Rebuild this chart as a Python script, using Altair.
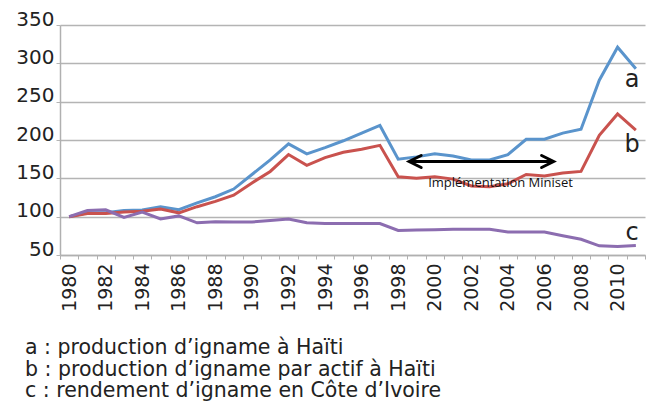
import altair as alt
import pandas as pd

years = list(range(1980, 2012))

series_a = [100, 105, 105, 108, 108.7, 113, 109, 118, 126, 136, 155, 174, 195, 182, 190, 199,
            209, 219, 175, 178, 182, 179, 174, 174, 181, 201, 201, 209, 214, 278, 321, 293]
series_b = [100, 104, 104, 106, 107, 110, 105, 113, 120, 128, 144, 159, 181, 167, 177, 184,
            188, 193, 152, 150, 152, 149, 140, 139, 143, 155, 153, 157, 159, 206, 234, 213]
series_c = [100, 108, 109, 99, 106, 97, 101, 92, 93.5, 93, 93, 95, 97, 92, 91, 91,
            91, 91, 82, 82.5, 83, 83.5, 83.5, 83.5, 80, 80, 80, 75, 70.5, 62, 61, 62.5]

series_names = ["a", "b", "c"]
series_colors = ["#5a94cc", "#c9524e", "#8c6db0"]

y_ticks = [50, 100, 150, 200, 250, 300, 350]

# end-of-line letters
end_labels = ["a", "b", "c"]
end_label_year = [2010.8, 2010.8, 2010.8]
end_label_value = [269, 184, 70]

# arrow annotation
arrow_start = 1998.6
arrow_end = 2006.5
arrow_value = 172
arrow_text = "Implémentation Miniset"
arrow_text_year = 2003.6
arrow_text_value = 139

legend_lines = [
    "a : production d\u2019igname à Haïti",
    "b : production d\u2019igname par actif à Haïti",
    "c : rendement d\u2019igname en Côte d\u2019Ivoire",
]

W, H = 585, 230
FONT = "DejaVu Sans"

rows = []
for name, vals in zip(series_names, [series_a, series_b, series_c]):
    for y, v in zip(years, vals):
        rows.append({"series": name, "year": y, "value": v})
df = pd.DataFrame(rows)

xscale = alt.Scale(domain=[1979.5, 2011.5], nice=False, zero=False)
yscale = alt.Scale(domain=[50, 350], nice=False, zero=False)

tick_vals = [1979.5 + i for i in range(33)]

x_axis = alt.Axis(
    values=tick_vals,
    labelExpr="((datum.value + 0.5) % 2 == 0 && datum.value < 2011) ? '' + (datum.value + 0.5) : ''",
    labelAngle=270, labelAlign="right", labelBaseline="middle",
    labelOffset=W / 32 / 2, labelPadding=4, labelOverlap=False, labelFlush=False,
    labelFont=FONT, labelFontSize=19, labelColor="#222222",
    tickSize=4, tickColor="#b0b0b0", domainColor="#b0b0b0", domainWidth=1.5,
    grid=False, title=None,
)
y_axis = alt.Axis(
    values=y_ticks, grid=True, gridColor="#b4b4b4", gridWidth=1.3,
    tickSize=4, tickColor="#b4b4b4", domainColor="#b0b0b0", domainWidth=1.5,
    labelFont=FONT, labelFontSize=20, labelColor="#222222", labelOverlap=False,
    labelBaseline="alphabetic", labelPadding=2, labelFlush=False, title=None,
)


def X(field):
    return alt.X(field, scale=xscale, axis=x_axis)


def Y(field):
    return alt.Y(field, scale=yscale, axis=y_axis)


lines = alt.Chart(df).mark_line(strokeWidth=3).encode(
    x=X("year:Q"),
    y=Y("value:Q"),
    color=alt.Color("series:N", scale=alt.Scale(domain=series_names, range=series_colors), legend=None),
)

lab_df = pd.DataFrame({"label": end_labels, "year": end_label_year, "value": end_label_value})
letters = alt.Chart(lab_df).mark_text(
    font=FONT, fontSize=24, color="#222222", align="center", baseline="alphabetic"
).encode(x=X("year:Q"), y=Y("value:Q"), text="label:N")

arrow_df = pd.DataFrame({"x": [arrow_start], "x2": [arrow_end], "y": [arrow_value]})
shaft = alt.Chart(arrow_df).mark_rule(color="black", strokeWidth=3).encode(
    x=X("x:Q"), x2="x2:Q", y=Y("y:Q")
)
heads_df = pd.DataFrame({"x": [arrow_start, arrow_end], "y": [arrow_value, arrow_value], "dir": ["l", "r"]})
head_l = alt.Chart(heads_df[heads_df.dir == "l"]).mark_point(
    shape="M2,-1L0,0L2,1", size=144, filled=False, stroke="black", strokeWidth=3, opacity=1,
    strokeCap="round", strokeJoin="miter"
).encode(x=X("x:Q"), y=Y("y:Q"))
head_r = alt.Chart(heads_df[heads_df.dir == "r"]).mark_point(
    shape="M-2,-1L0,0L-2,1", size=144, filled=False, stroke="black", strokeWidth=3, opacity=1,
    strokeCap="round", strokeJoin="miter"
).encode(x=X("x:Q"), y=Y("y:Q"))

txt_df = pd.DataFrame({"t": [arrow_text], "x": [arrow_text_year], "y": [arrow_text_value]})
arrow_label = alt.Chart(txt_df).mark_text(
    font="Open Sans", fontSize=13, color="#111111", align="center", baseline="alphabetic"
).encode(x=X("x:Q"), y=Y("y:Q"), text="t:N")

chart = alt.layer(lines, letters, shaft, head_l, head_r, arrow_label).properties(
    width=W, height=H,
    autosize=alt.AutoSizeParams(type="none"),
    padding={"left": 52, "top": 17, "right": 1, "bottom": 147},
    title=alt.TitleParams(
        text=legend_lines, orient="bottom", anchor="start", frame="group", dx=-35, offset=27,
        font=FONT, fontSize=20.5, fontWeight="normal", color="#222222", lineHeight=21.5,
    ),
).configure_view(stroke=None).configure_axis(labelOverlap=False)

chart.save("out.html", embed_options={"renderer": "svg", "actions": False})
